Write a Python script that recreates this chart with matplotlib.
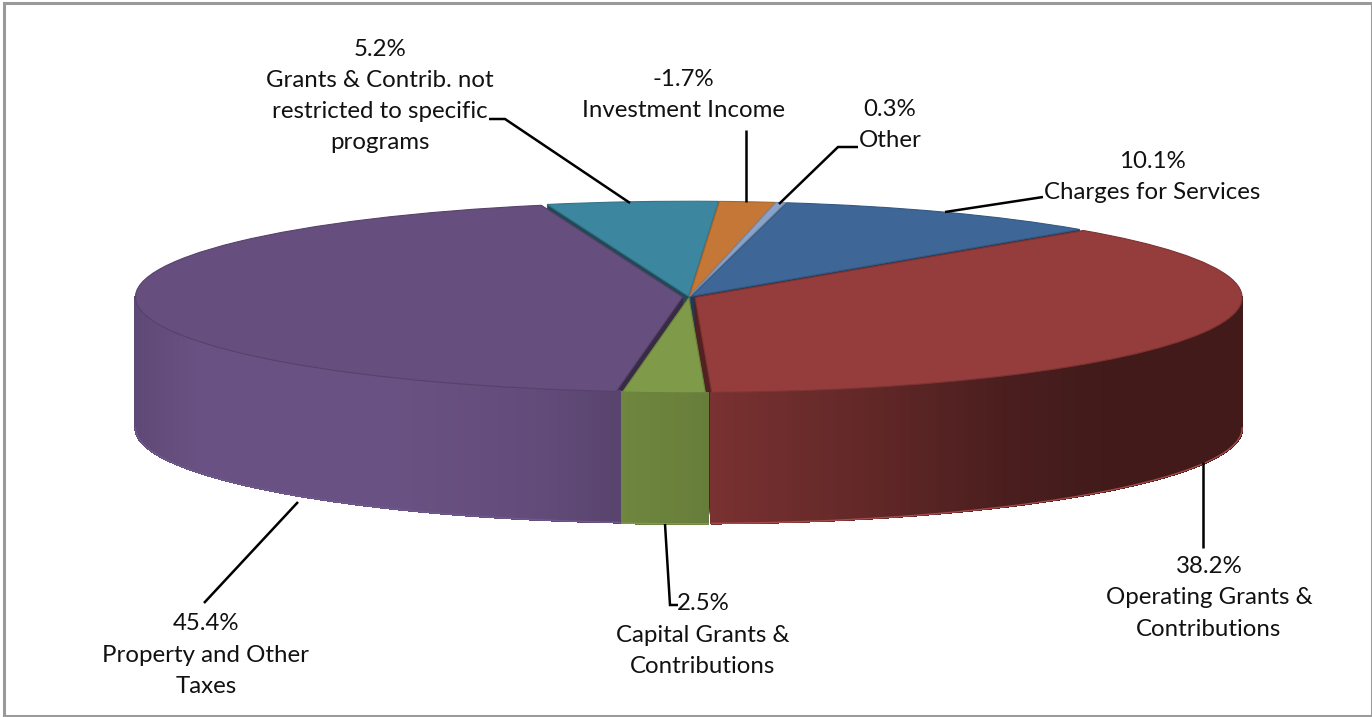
import numpy as np
import matplotlib
matplotlib.use("Agg")
import matplotlib.pyplot as plt
from matplotlib.collections import PolyCollection
from matplotlib.colors import to_rgb

# Revenue sources, listed clockwise from the top of the pie
sources = ["Charges for Services", "Operating Grants &\nContributions",
           "Capital Grants &\nContributions", "Property and Other\nTaxes",
           "Grants & Contrib. not\nrestricted to specific\nprograms",
           "Investment Income", "Other"]
percent = [10.1, 38.2, 2.5, 45.4, 5.2, -1.7, 0.3]
colors = ["#3E6797", "#953C3C", "#7F9A48", "#664E7E", "#3C879F", "#C47736", "#8AA2C8"]
rims = ["#3E6797", "#A84A4A", "#7F9A48", "#6E5A8E", "#3C879F", "#C47736", "#8AA2C8"]
pull_out = [0.008, 0.012, 0.008, 0.012, 0.008, 0.008, 0.008]

# Label block centres and leader polylines, in pixels
label_xy = [(1152, 177), (1209, 598), (703, 635), (206, 655), (380, 96), (683, 95), (890, 125)]
leaders = [[(1043, 197), (945, 212)],
           [(1203, 462), (1203, 548)],
           [(665, 524), (670, 605), (678, 605)],
           [(298, 502), (204, 603)],
           [(489, 119), (505, 119), (630, 203)],
           [(746, 130), (746, 202)],
           [(858, 147), (838, 147), (779, 204)]]

W, H = 1372, 717
CX, CY, RX, RY, DEPTH = 689, 297, 547, 95, 131

# Brightness of the side wall against its horizontal position on the ellipse
shade_u = [-1, -0.88, -0.52, -0.25, -0.12, 0, 0.3, 0.57, 0.75, 1]
shade_v = [0.93, 1.04, 1.04, 0.96, 0.87, 0.83, 0.67, 0.50, 0.44, 0.44]

fig = plt.figure(figsize=(W / 100, H / 100), dpi=100, facecolor="white")
ax = fig.add_axes([0, 0, 1, 1])

# The pie gives the top surface; squashing the axes makes it an ellipse
wedges, _ = ax.pie(np.abs(percent), colors=colors, startangle=79.9, counterclock=False,
                   radius=1, explode=pull_out,
                   wedgeprops=dict(zorder=3, linewidth=0.8))
ax.set_aspect("auto")
ax.set_xlim(-CX / RX, (W - CX) / RX)
ax.set_ylim((CY - H) / RY, CY / RY)
d = DEPTH / RY

for w, col, rim in zip(wedges, colors, rims):
    base = np.array(to_rgb(col))
    w.set_edgecolor(tuple(base * 0.85))
    cx, cy = w.center
    mid = np.radians((w.theta1 + w.theta2) / 2)

    # Cut faces along both radial edges, nearer slices painted over farther ones
    for th in (w.theta1, w.theta2):
        ex, ey = cx + np.cos(np.radians(th)), cy + np.sin(np.radians(th))
        ax.fill([cx, ex, ex, cx], [cy, ey, ey - d, cy - d],
                color=tuple(base * 0.55), lw=0.5, zorder=1.5 - 0.1 * np.sin(mid))

    # Curved outer wall built from narrow shaded strips
    t = np.radians(np.arange(w.theta1, w.theta2 + 0.5, 0.5))
    t = t[np.sin(t) < 0.005]
    if len(t) < 2:
        continue
    xs, ys = cx + np.cos(t), cy + np.sin(t)
    polys, fc = [], []
    for i in range(len(t) - 1):
        polys.append([(xs[i], ys[i]), (xs[i + 1], ys[i + 1]),
                      (xs[i + 1], ys[i + 1] - d), (xs[i], ys[i] - d)])
        k = np.interp(np.cos((t[i] + t[i + 1]) / 2), shade_u, shade_v)
        fc.append(tuple(np.clip(base * k, 0, 1)))
    ax.add_collection(PolyCollection(polys, facecolors=fc, edgecolors=fc, linewidths=1.0,
                                     antialiaseds=False, zorder=2))
    ax.plot(xs, ys - d, color=rim, lw=1.0, zorder=2.5)

# Overlay in pixel coordinates for labels, leaders and the outer frame
ov = fig.add_axes([0, 0, 1, 1], facecolor="none")
ov.set_xlim(0, W)
ov.set_ylim(H, 0)
ov.axis("off")

for path in leaders:
    px, py = zip(*path)
    ov.plot(px, py, color="black", lw=1.8, solid_capstyle="butt", solid_joinstyle="miter")

for name, val, (x, y) in zip(sources, percent, label_xy):
    ov.text(x, y, f"{val}%\n{name}", ha="center", va="center", family="Lato",
            fontsize=17.3, color="#111111", linespacing=1.6, multialignment="center")

frame_x = [3.5, 3.5, W - 0.5, W - 0.5, 3.5]
frame_y = [715.5, 3, 3, 715.5, 715.5]
ov.plot(frame_x, frame_y, color="#9A9A9A", lw=2.2, solid_joinstyle="miter")

fig.savefig("out.png", dpi=100)
